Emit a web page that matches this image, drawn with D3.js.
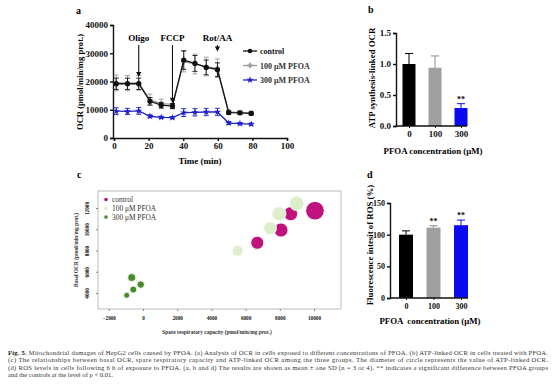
<!DOCTYPE html>
<html><head><meta charset="utf-8">
<script src="https://cdn.jsdelivr.net/npm/d3@7"></script>
<style>
html,body{margin:0;padding:0;background:#fff;}
svg{display:block;}
</style></head>
<body><svg id="fig" width="552" height="386"></svg>
<script>
// ---------- Panel a data ----------
const times = [1.3, 7.8, 14.3, 20.8, 27.3, 33.8, 40.3, 46.8, 53.3, 59.8, 66.3, 72.8, 79.3];
const ocrControl = [19200, 19200, 19200, 13000, 11600, 11300, 27600, 26400, 25000, 24200, 9000, 8900, 8700];
const ocrControlSD = [2000, 2000, 2000, 1300, 1000, 900, 3300, 2800, 2600, 2400, 600, 500, 500];
const ocr100 = [19500, 19400, 19500, 13500, 12200, 11900, 27000, 26200, 25300, 24700, 9200, 9000, 8800];
const ocr100SD = [2800, 2700, 2600, 2000, 1600, 1500, 3600, 3500, 3300, 3300, 800, 700, 700];
const ocr300 = [9500, 9400, 9600, 7700, 7300, 7200, 9000, 9100, 9200, 9200, 5300, 5100, 4900];
const ocr300SD = [1200, 1100, 1200, 500, 400, 400, 1400, 1300, 1300, 1300, 500, 400, 400];
const injections = [{label: "Oligo", t: 14.3}, {label: "FCCP", t: 33.8}, {label: "Rot/AA", t: 59.8}];
const seriesNames = ["control", "100 \u03bcM PFOA", "300 \u03bcM PFOA"];
const timeTicks = [0, 20, 40, 60, 80, 100];
const ocrTicks = [0, 10000, 20000, 30000, 40000];

// ---------- Panel b data ----------
const concentrations = ["0", "100", "300"];
const atpLinked = [1.0, 0.94, 0.29];
const atpLinkedSD = [0.17, 0.19, 0.07];
const atpSig = ["", "", "**"];
const atpTicks = [0, 0.5, 1.0, 1.5];

// ---------- Panel c data ----------
const spareControl = [10058, 8637, 8070, 6684];
const basalControl = [11745, 11462, 9925, 8727];
const atpControl = [9300, 7000, 7000, 6500];
const spare100 = [8988, 7953, 7427, 5536];
const basal100 = [12443, 11462, 10085, 7972];
const atp100 = [7300, 7000, 6500, 5500];
const spare300 = [-661, -135, -567, -953];
const basal300 = [5453, 4792, 4321, 3783];
const atp300 = [4000, 3700, 3500, 3000];
const spareTicks = [-2000, 0, 2000, 4000, 6000, 8000, 10000];
const basalTicks = [4000, 6000, 8000, 10000, 12000];

// ---------- Panel d data ----------
const rosValues = [100, 111, 115];
const rosSD = [6, 3, 8];
const rosSig = ["", "**", "**"];
const rosTicks = [0, 50, 100, 150];

// ---------- caption ----------
const captionLines = [
  "Mitochondrial damages of HepG2 cells caused by PFOA. (a) Analysis of OCR in cells exposed to different concentrations of PFOA. (b) ATP-linked OCR in cells treated with PFOA.",
  "(c) The relationships between basal OCR, spare respiratory capacity and ATP-linked OCR among the three groups. The diameter of circle represents the value of ATP-linked OCR.",
  "(d) ROS levels in cells following 6 h of exposure to PFOA. (a, b and d) The results are shown as mean \u00b1 one SD (n = 3 or 4). ** indicates a significant difference between PFOA groups",
  "and the controls at the level of p < 0.01."
];

const svg = d3.select("#fig");
const serif = "'Liberation Serif','Times New Roman',serif";
const colCtrl = "#111", col100 = "#9a9a9a", col300 = "#1f22c8";

function styleAxis(g, size, bold) {
  g.selectAll("text").attr("font-family", serif).attr("font-size", size)
    .attr("font-weight", bold ? "bold" : "normal").attr("fill", "#111");
  g.selectAll("line,path").attr("stroke", "#111");
}

// ================= Panel a =================
{
  const x = d3.scaleLinear().domain([0, 100]).range([114, 287]);
  const y = d3.scaleLinear().domain([0, 40000]).range([138, 25]);
  const g = svg.append("g");
  g.append("text").attr("x", 76).attr("y", 14).text("a")
    .attr("font-family", serif).attr("font-weight", "bold").attr("font-size", 10);
  const ax = g.append("g").attr("transform", "translate(0,138)")
    .call(d3.axisBottom(x).tickValues(timeTicks).tickSize(3).tickPadding(2));
  styleAxis(ax, 9, true);
  ax.selectAll("path,line").attr("stroke-width", 1.4);
  const ay = g.append("g").attr("transform", "translate(113,0)")
    .call(d3.axisLeft(y).tickValues(ocrTicks).tickSize(3).tickPadding(2).tickFormat(d3.format("d")));
  styleAxis(ay, 9, true);
  ay.selectAll("path,line").attr("stroke-width", 1.4);
  g.append("text").attr("x", 200).attr("y", 164).attr("text-anchor", "middle")
    .attr("font-family", serif).attr("font-weight", "bold").attr("font-size", 9).text("Time (min)");
  g.append("text").attr("transform", "translate(83,82) rotate(-90)").attr("text-anchor", "middle")
    .attr("font-family", serif).attr("font-weight", "bold").attr("font-size", 8.6).text("OCR (pmol/min/mg prot.)");

  const series = [
    {v: ocr100, sd: ocr100SD, c: col100, sym: d3.symbolCross, size: 14},
    {v: ocr300, sd: ocr300SD, c: col300, sym: d3.symbolStar, size: 16},
    {v: ocrControl, sd: ocrControlSD, c: colCtrl, sym: d3.symbolCircle, size: 22}
  ];
  const line = d3.line().x((d, i) => x(times[i])).y(d => y(d));
  series.forEach(s => {
    const eb = g.append("g").attr("stroke", s.c).attr("stroke-width", 0.9);
    s.v.forEach((v, i) => {
      const cx = x(times[i]);
      eb.append("line").attr("x1", cx).attr("x2", cx).attr("y1", y(v - s.sd[i])).attr("y2", y(v + s.sd[i]));
      eb.append("line").attr("x1", cx - 2.5).attr("x2", cx + 2.5).attr("y1", y(v - s.sd[i])).attr("y2", y(v - s.sd[i]));
      eb.append("line").attr("x1", cx - 2.5).attr("x2", cx + 2.5).attr("y1", y(v + s.sd[i])).attr("y2", y(v + s.sd[i]));
    });
    g.append("path").datum(s.v).attr("d", line).attr("fill", "none").attr("stroke", s.c).attr("stroke-width", 1.3);
    g.append("g").selectAll("path").data(s.v).join("path")
      .attr("transform", (d, i) => `translate(${x(times[i])},${y(d)})`)
      .attr("d", d3.symbol(s.sym, s.size)).attr("fill", s.c);
  });
  // injection arrows
  const arrowEnds = [ocrControl[2] + ocrControlSD[2] + 400, ocrControl[5] + 1200, ocrControl[9] + ocrControlSD[9] + 4000];
  injections.forEach((inj, k) => {
    const cx = x(inj.t);
    g.append("text").attr("x", cx).attr("y", 41).attr("text-anchor", "middle")
      .attr("font-family", serif).attr("font-weight", "bold").attr("font-size", 9).text(inj.label);
    const yEnd = y(arrowEnds[k]);
    g.append("line").attr("x1", cx).attr("x2", cx).attr("y1", 45).attr("y2", yEnd - 4)
      .attr("stroke", "#111").attr("stroke-width", 1.1);
    g.append("path").attr("d", `M${cx - 2.6},${yEnd - 5}L${cx + 2.6},${yEnd - 5}L${cx},${yEnd}Z`).attr("fill", "#111");
  });
  // legend
  const legCols = [colCtrl, col100, col300];
  const legSyms = [d3.symbolCircle, d3.symbolCross, d3.symbolStar];
  seriesNames.forEach((name, i) => {
    const ly = 51 + i * 14.5;
    g.append("line").attr("x1", 243).attr("x2", 257).attr("y1", ly).attr("y2", ly)
      .attr("stroke", legCols[i]).attr("stroke-width", 1.3);
    g.append("path").attr("transform", `translate(250,${ly})`).attr("d", d3.symbol(legSyms[i], 16)).attr("fill", legCols[i]);
    g.append("text").attr("x", 260).attr("y", ly + 3).attr("font-family", serif).attr("font-weight", "bold")
      .attr("font-size", 8).attr("fill", i === 0 ? "#111" : "#333").text(name);
  });
}

// ================= bar panels (b, d) =================
function barPanel(opts) {
  const g = svg.append("g");
  const x = d3.scalePoint().domain(concentrations).range(opts.xr);
  const y = d3.scaleLinear().domain(opts.yd).range(opts.yr);
  const cols = ["#000", "#a0a0a0", "#0a0af0"];
  g.append("text").attr("x", opts.lab[0]).attr("y", opts.lab[1]).text(opts.letter)
    .attr("font-family", serif).attr("font-weight", "bold").attr("font-size", 10);
  opts.vals.forEach((v, i) => {
    const cx = x(concentrations[i]);
    g.append("line").attr("x1", cx).attr("x2", cx).attr("y1", y(v)).attr("y2", y(v + opts.sd[i]))
      .attr("stroke", cols[i] === "#a0a0a0" ? "#8a8a8a" : cols[i]).attr("stroke-width", 1);
    g.append("line").attr("x1", cx - 4).attr("x2", cx + 4).attr("y1", y(v + opts.sd[i])).attr("y2", y(v + opts.sd[i]))
      .attr("stroke", cols[i] === "#a0a0a0" ? "#8a8a8a" : cols[i]).attr("stroke-width", 1);
    g.append("rect").attr("x", cx - opts.bw / 2).attr("width", opts.bw)
      .attr("y", y(v)).attr("height", y(0) - y(v)).attr("fill", cols[i]);
    if (opts.sig[i]) g.append("text").attr("x", cx).attr("y", y(v + opts.sd[i]) - 2).attr("text-anchor", "middle")
      .attr("font-family", serif).attr("font-size", 8).attr("font-weight", "bold").text(opts.sig[i]);
  });
  const ax = g.append("g").attr("transform", `translate(0,${opts.yr[0]})`)
    .call(d3.axisBottom(x).tickSize(2).tickPadding(3));
  ax.select(".domain").remove();
  styleAxis(ax, opts.fs, true);
  g.append("line").attr("x1", opts.axisX[0]).attr("x2", opts.axisX[1]).attr("y1", opts.yr[0]).attr("y2", opts.yr[0])
    .attr("stroke", "#111").attr("stroke-width", 1.4);
  const ay = g.append("g").attr("transform", `translate(${opts.axisX[0]},0)`)
    .call(d3.axisLeft(y).tickValues(opts.ticks).tickSize(3).tickPadding(2).tickFormat(opts.fmt));
  styleAxis(ay, opts.fs, true);
  ay.selectAll("path,line").attr("stroke-width", 1.4);
  g.append("text").attr("x", opts.xt[0]).attr("y", opts.xt[1]).attr("text-anchor", "middle")
    .attr("font-family", serif).attr("font-weight", "bold").attr("font-size", 8.8).attr("xml:space", "preserve").text(opts.xtitle);
  g.append("text").attr("transform", `translate(${opts.yt[0]},${opts.yt[1]}) rotate(-90)`).attr("text-anchor", "middle")
    .attr("font-family", serif).attr("font-weight", "bold").attr("font-size", 8.8).text(opts.ytitle);
}
barPanel({letter: "b", lab: [368, 13], xr: [409, 461], bw: 13, yd: [0, 1.5], yr: [126, 33], axisX: [396, 467],
  vals: atpLinked, sd: atpLinkedSD, sig: atpSig, ticks: atpTicks, fmt: d3.format(".1f"), fs: 9,
  xt: [433, 154], xtitle: "PFOA concentration (\u03bcM)", yt: [375, 78], ytitle: "ATP synthesis-linked OCR"});
barPanel({letter: "d", lab: [367, 178], xr: [406, 461], bw: 14, yd: [0, 150], yr: [298, 203], axisX: [390, 468],
  vals: rosValues, sd: rosSD, sig: rosSig, ticks: rosTicks, fmt: d3.format("d"), fs: 8,
  xt: [430, 324], xtitle: "PFOA  concentration (\u03bcM)", yt: [373, 245], ytitle: "Fluorescence intesit of ROS (%)"});

// ================= Panel c =================
{
  const g = svg.append("g");
  const x = d3.scaleLinear().domain([-2632, 11580]).range([98, 341]);
  const y = d3.scaleLinear().domain([2490, 13600]).range([309, 191]);
  const r = d3.scaleLinear().domain([0, 10000]).range([0, 10]);
  g.append("text").attr("x", 77).attr("y", 178).text("c")
    .attr("font-family", serif).attr("font-weight", "bold").attr("font-size", 10);
  g.append("rect").attr("x", 98).attr("y", 191).attr("width", 243).attr("height", 118)
    .attr("fill", "none").attr("stroke", "#aaa").attr("stroke-width", 0.8);
  const ax = g.append("g").attr("transform", "translate(0,309)")
    .call(d3.axisBottom(x).tickValues(spareTicks).tickSize(2).tickPadding(5).tickFormat(d3.format("d")));
  ax.select(".domain").remove();
  styleAxis(ax, 5.2, true);
  ax.selectAll("line").attr("stroke", "#888");
  const ay = g.append("g").attr("transform", "translate(98,0)")
    .call(d3.axisLeft(y).tickValues(basalTicks).tickSize(2).tickPadding(5).tickFormat(d3.format("d")));
  ay.select(".domain").remove();
  styleAxis(ay, 5.2, true);
  ay.selectAll("line").attr("stroke", "#888");
  ay.selectAll("text").attr("transform", "rotate(-90)").attr("text-anchor", "middle")
    .attr("x", 0).attr("y", -9).attr("dy", 0);
  g.append("text").attr("x", 217).attr("y", 334).attr("text-anchor", "middle")
    .attr("font-family", serif).attr("font-size", 5.4).attr("font-weight", "bold").attr("fill", "#333")
    .text("Spare respiratory capacity (pmol/min/mg prot.)");
  g.append("text").attr("transform", "translate(78,250) rotate(-90)").attr("text-anchor", "middle")
    .attr("font-family", serif).attr("font-size", 5.4).attr("font-weight", "bold").attr("fill", "#333")
    .text("Basal OCR (pmol/min/mg prot.)");
  const groups = [
    {sx: spareControl, by: basalControl, a: atpControl, c: "#c0127c"},
    {sx: spare100, by: basal100, a: atp100, c: "#ddeecb"},
    {sx: spare300, by: basal300, a: atp300, c: "#4b8a2c"}
  ];
  groups.forEach(gr => {
    g.append("g").selectAll("circle").data(gr.sx).join("circle")
      .attr("cx", d => x(d)).attr("cy", (d, i) => y(gr.by[i])).attr("r", (d, i) => r(gr.a[i]))
      .attr("fill", gr.c).attr("stroke", "#fff").attr("stroke-width", 0.8);
  });
  seriesNames.forEach((name, i) => {
    const ly = 199.5 + i * 8.8;
    g.append("circle").attr("cx", 106).attr("cy", ly).attr("r", 1.8).attr("fill", groups[i].c);
    g.append("text").attr("x", 112).attr("y", ly + 2.5).attr("font-family", serif).attr("font-size", 7.4)
      .attr("fill", "#333").text(name);
  });
}

// ================= caption =================
{
  const g = svg.append("g").attr("font-family", "'Liberation Serif','Times New Roman',serif").attr("font-size", 6.6).attr("fill", "#333");
  captionLines.forEach((ln, i) => {
    const yy = 354.5 + i * 7.6;
    const t = g.append("text").attr("x", 8).attr("y", yy);
    if (i === 0) {
      t.append("tspan").attr("font-weight", "bold").attr("fill", "#222").text("Fig. 5. ");
      t.append("tspan").text(ln);
    } else {
      t.text(ln);
    }
    if (i < 3) t.attr("textLength", 540).attr("lengthAdjust", "spacing");
  });
}
</script></body></html>
